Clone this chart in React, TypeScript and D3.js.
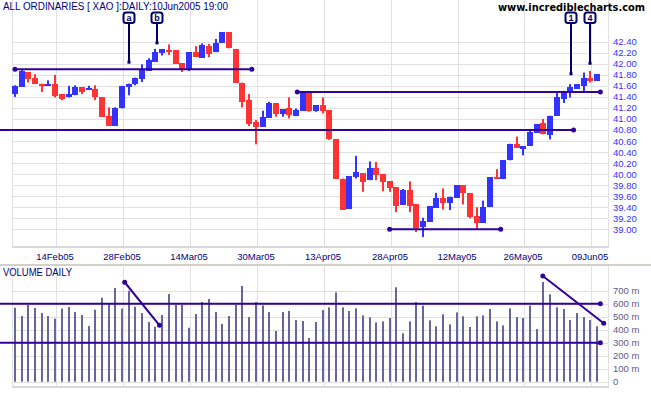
import * as d3 from "d3";

const width = 651;
const height = 395;
const plotLeft = 12;
const plotRight = 608;
const priceBottom = 247;
const volTop = 266;
const volBottom = 387;

// daily OHLC, 4 Feb 2005 .. 10 Jun 2005 (88 trading days)
const open = [41.45, 41.58, 41.85, 41.75, 41.64, 41.60, 41.63, 41.45, 41.39, 41.43, 41.57, 41.54, 41.55, 41.39, 41.06, 40.88, 41.19, 41.57, 41.63, 41.72, 41.87, 42.04, 42.19, 42.25, 42.25, 42.01, 41.89, 42.21, 42.11, 42.33, 42.21, 42.38, 42.57, 42.27, 41.66, 41.34, 40.95, 40.86, 41.02, 41.28, 41.09, 41.19, 41.05, 41.15, 41.49, 41.15, 41.25, 41.16, 40.64, 39.92, 39.37, 39.95, 40.02, 39.89, 40.12, 40.00, 39.87, 39.76, 39.44, 39.71, 39.46, 39.04, 39.14, 39.39, 39.57, 39.47, 39.57, 39.80, 39.65, 39.25, 39.12, 39.41, 39.95, 39.91, 40.25, 40.55, 40.46, 40.51, 40.75, 40.92, 40.70, 41.06, 41.36, 41.49, 41.55, 41.60, 41.75, 41.69];
const high = [41.61, 41.90, 41.85, 41.81, 41.64, 41.70, 41.80, 41.45, 41.60, 41.61, 41.57, 41.60, 41.61, 41.39, 41.21, 41.21, 41.60, 41.64, 41.75, 41.99, 42.10, 42.27, 42.27, 42.35, 42.25, 42.01, 42.21, 42.32, 42.37, 42.36, 42.45, 42.57, 42.57, 42.27, 41.66, 41.45, 40.98, 41.15, 41.31, 41.28, 41.18, 41.39, 41.19, 41.50, 41.49, 41.25, 41.39, 41.16, 40.64, 39.92, 39.96, 40.33, 40.02, 40.23, 40.22, 40.00, 39.87, 39.76, 39.73, 39.87, 39.46, 39.21, 39.42, 39.66, 39.74, 39.59, 39.80, 39.80, 39.65, 39.40, 39.52, 39.94, 40.09, 40.25, 40.55, 40.68, 40.51, 40.80, 40.90, 41.00, 41.06, 41.48, 41.51, 41.63, 41.63, 41.84, 41.87, 41.81];
const low = [41.40, 41.58, 41.66, 41.63, 41.49, 41.60, 41.39, 41.34, 41.39, 41.43, 41.45, 41.54, 41.34, 41.04, 40.88, 40.88, 41.19, 41.43, 41.61, 41.67, 41.87, 42.04, 42.15, 42.16, 42.00, 41.85, 41.87, 42.13, 42.11, 42.12, 42.21, 42.38, 42.28, 41.66, 41.21, 40.87, 40.54, 40.86, 41.02, 41.04, 41.04, 41.01, 41.05, 41.15, 41.13, 41.13, 41.10, 40.62, 39.91, 39.35, 39.37, 39.92, 39.68, 39.89, 39.89, 39.69, 39.68, 39.31, 39.44, 39.31, 38.95, 38.86, 39.14, 39.39, 39.36, 39.35, 39.57, 39.45, 39.20, 39.01, 39.12, 39.41, 39.91, 39.91, 40.25, 40.48, 40.34, 40.51, 40.75, 40.72, 40.63, 41.06, 41.29, 41.39, 41.55, 41.49, 41.66, 41.69];
const close = [41.60, 41.87, 41.72, 41.64, 41.60, 41.63, 41.41, 41.37, 41.45, 41.57, 41.49, 41.56, 41.39, 41.04, 40.88, 41.20, 41.60, 41.64, 41.75, 41.90, 42.06, 42.21, 42.26, 42.22, 42.00, 41.90, 42.21, 42.13, 42.34, 42.17, 42.38, 42.57, 42.28, 41.66, 41.31, 40.90, 40.85, 41.03, 41.28, 41.09, 41.18, 41.07, 41.16, 41.49, 41.15, 41.25, 41.15, 40.63, 39.91, 39.35, 39.96, 40.03, 39.86, 40.12, 39.98, 39.86, 39.75, 39.42, 39.72, 39.43, 39.03, 39.15, 39.42, 39.57, 39.47, 39.59, 39.80, 39.65, 39.23, 39.11, 39.41, 39.94, 39.91, 40.25, 40.55, 40.48, 40.51, 40.76, 40.90, 40.72, 41.06, 41.39, 41.51, 41.57, 41.63, 41.75, 41.69, 41.81];
// volume in millions
const volume = [569, 505, 590, 567, 528, 505, 485, 562, 574, 536, 513, 428, 554, 646, 605, 721, 562, 700, 577, 528, 459, 423, 513, 674, 590, 590, 415, 521, 613, 636, 536, 444, 505, 590, 736, 497, 613, 587, 536, 390, 536, 544, 474, 467, 336, 459, 551, 572, 687, 572, 544, 564, 510, 495, 456, 464, 490, 726, 372, 464, 613, 585, 472, 426, 518, 441, 533, 503, 421, 503, 510, 559, 464, 433, 564, 497, 490, 585, 405, 767, 672, 572, 559, 474, 528, 497, 474, 426];

const tickIndex = [6, 16, 26, 36, 46, 56, 66, 76, 86];
const tickLabels = ["14Feb05", "28Feb05", "14Mar05", "30Mar05", "13Apr05", "28Apr05", "12May05", "26May05", "09Jun05"];
const priceTicks = [42.4, 42.2, 42.0, 41.8, 41.6, 41.4, 41.2, 41.0, 40.8, 40.6, 40.4, 40.2, 40.0, 39.8, 39.6, 39.4, 39.2, 39.0];
const volTicks = [700, 600, 500, 400, 300, 200, 100, 0];
const volTickLabels = ["700 m", "600 m", "500 m", "400 m", "300 m", "200 m", "100 m", "0"];

// drawn support / resistance lines (index range, price)
const levelPrice = [41.9, 41.49, 40.8, 39.0];
const levelFrom = [0, 42.2, -2.3, 56];
const levelTo = [35.4, 87.5, 83.5, 72.6];
const levelLeftDot = [true, true, false, true];

const volLevel = [600, 300];
const volLevelTo = 87.5;
const volTrendFrom = [[16.4, 765], [78.9, 813]];
const volTrendTo = [[21.6, 434], [88.0, 449]];

const markerLabel = ["a", "b", "1", "4"];
const markerIndex = [17.1, 21.2, 83.1, 85.9];
const markerPrice = [42.02, 42.37, 41.81, 42.0];

const blue = "#3333ff";
const red = "#ff3333";
const purple = "#330099";
const navy = "#000066";
const grid = "#e0e0e0";
const font = "'Liberation Sans', Arial, sans-serif";

const App = () => {
    const x = d3.scaleLinear([0, 87], [15, 597]);
    const y = d3.scaleLinear([39.0, 42.4], [229.3, 41.7]);
    const yv = d3.scaleLinear([0, 700], [381.7, 290.7]);
    const px = (i: number) => Math.round(x(i));

    return (
        <svg width={width} height={height} style={{ position: "absolute", left: 0, top: 0, background: "#fff" }}>
            <rect width={width} height={height} fill="#fff" />
            {/* price grid */}
            {priceTicks.map((p, i) => (
                <line key={i} x1={plotLeft} x2={plotRight} y1={Math.round(y(p)) + 0.5} y2={Math.round(y(p)) + 0.5} stroke={grid} />
            ))}
            {tickIndex.map((t, i) => (
                <line key={i} x1={px(t) + 1.5} x2={px(t) + 1.5} y1={0} y2={priceBottom} stroke={grid} />
            ))}
            <line x1={plotLeft + 0.5} x2={plotLeft + 0.5} y1={0} y2={priceBottom} stroke={grid} />
            <line x1={plotRight + 0.5} x2={plotRight + 0.5} y1={0} y2={priceBottom} stroke={grid} />
            <line x1={plotLeft} x2={plotRight + 1} y1={priceBottom} y2={priceBottom} stroke="#d8d8d8" strokeWidth={2} />

            {/* volume grid */}
            {volTicks.map((v, i) => (
                <line key={i} x1={plotLeft} x2={plotRight} y1={Math.round(yv(v)) + 0.5} y2={Math.round(yv(v)) + 0.5} stroke={grid} />
            ))}
            {tickIndex.map((t, i) => (
                <line key={i} x1={px(t) + 1.5} x2={px(t) + 1.5} y1={volTop} y2={volBottom} stroke={grid} />
            ))}
            <line x1={plotLeft + 0.5} x2={plotLeft + 0.5} y1={volTop} y2={volBottom} stroke={grid} />
            <line x1={plotRight + 0.5} x2={plotRight + 0.5} y1={volTop} y2={volBottom} stroke={grid} />
            <line x1={plotLeft} x2={plotRight + 1} y1={volBottom} y2={volBottom} stroke="#d8d8d8" strokeWidth={2} />
            <line x1={0} x2={width} y1={265} y2={265} stroke="#d4d0c8" strokeWidth={2} />

            {/* title */}
            <text x={3} y={10} fontFamily={font} fontSize={10} fill="#000080" textLength={225} lengthAdjust="spacingAndGlyphs">
                ALL ORDINARIES [ XAO ]:DAILY:10Jun2005 19:00
            </text>
            <text x={498} y={11} fontFamily="'DejaVu Sans', Verdana, sans-serif" fontWeight="bold" fontSize={10} fill="#000" textLength={147} lengthAdjust="spacingAndGlyphs">
                www.incrediblecharts.com
            </text>
            <text x={3} y={276} fontFamily={font} fontSize={10} fill="#000080" textLength={69} lengthAdjust="spacingAndGlyphs">
                VOLUME DAILY
            </text>

            {/* axis labels */}
            {priceTicks.map((p, i) => (
                <text key={i} x={613} y={y(p) + 3.5} fontFamily={font} fontSize={9.5} fill="#3333ff">{p.toFixed(2)}</text>
            ))}
            {tickIndex.map((t, i) => (
                <text key={i} x={px(t)} y={260} fontFamily={font} fontSize={9.5} fill="#000080" textAnchor="middle">{tickLabels[i]}</text>
            ))}
            {volTicks.map((v, i) => (
                <text key={i} x={613} y={yv(v) + 3.5} fontFamily={font} fontSize={9.5} fill="#5a5a88">{volTickLabels[i]}</text>
            ))}

            {/* candles */}
            {open.map((o, i) => {
                const c = close[i];
                const color = c >= o ? blue : red;
                const cx = px(i);
                const top = Math.round(y(Math.max(o, c)));
                const bot = Math.round(y(Math.min(o, c)));
                return (
                    <g key={i} fill={color}>
                        <rect x={cx - 1} y={y(high[i])} width={2} height={y(low[i]) - y(high[i])} />
                        <rect x={cx - 3} y={top} width={6} height={Math.max(2, bot - top)} />
                    </g>
                );
            })}

            {/* volume bars */}
            {volume.map((v, i) => (
                <rect key={i} x={px(i) - 1} y={yv(v)} width={2} height={yv(0) - yv(v)} fill="#66669a" />
            ))}

            {/* price levels */}
            {levelPrice.map((p, i) => {
                const x1 = Math.max(0, x(levelFrom[i]));
                const x2 = x(levelTo[i]);
                return (
                    <g key={i} stroke={purple} fill={purple}>
                        <line x1={x1} x2={x2} y1={y(p)} y2={y(p)} strokeWidth={2} />
                        {levelLeftDot[i] && <circle cx={x1} cy={y(p)} r={2.5} stroke="none" />}
                        <circle cx={x2} cy={y(p)} r={2.5} stroke="none" />
                    </g>
                );
            })}

            {/* volume levels and trends */}
            {volLevel.map((v, i) => (
                <g key={i} stroke={purple} fill={purple}>
                    <line x1={0} x2={x(volLevelTo)} y1={yv(v)} y2={yv(v)} strokeWidth={2} />
                    <circle cx={x(volLevelTo)} cy={yv(v)} r={2.5} stroke="none" />
                </g>
            ))}
            {volTrendFrom.map((f, i) => {
                const t = volTrendTo[i];
                return (
                    <g key={i} stroke={purple} fill={purple}>
                        <line x1={x(f[0])} y1={yv(f[1])} x2={x(t[0])} y2={yv(t[1])} strokeWidth={2} />
                        <circle cx={x(f[0])} cy={yv(f[1])} r={2.5} stroke="none" />
                        <circle cx={x(t[0])} cy={yv(t[1])} r={2.5} stroke="none" />
                    </g>
                );
            })}

            {/* letter markers */}
            {markerLabel.map((m, i) => {
                const cx = Math.round(x(markerIndex[i]));
                const ye = y(markerPrice[i]);
                return (
                    <g key={i}>
                        <line x1={cx} x2={cx} y1={23} y2={ye} stroke={navy} strokeWidth={2} />
                        <rect x={cx - 1.5} y={ye - 2} width={3} height={3} fill={navy} />
                        <rect x={cx - 5.5} y={12.5} width={11} height={10.5} rx={2.5} fill="#fff" stroke={navy} strokeWidth={2} />
                        <text x={cx} y={21} textAnchor="middle" fontFamily={font} fontWeight="bold" fontSize={9} fill={navy}>{m}</text>
                    </g>
                );
            })}
        </svg>
    );
};

export default App;
